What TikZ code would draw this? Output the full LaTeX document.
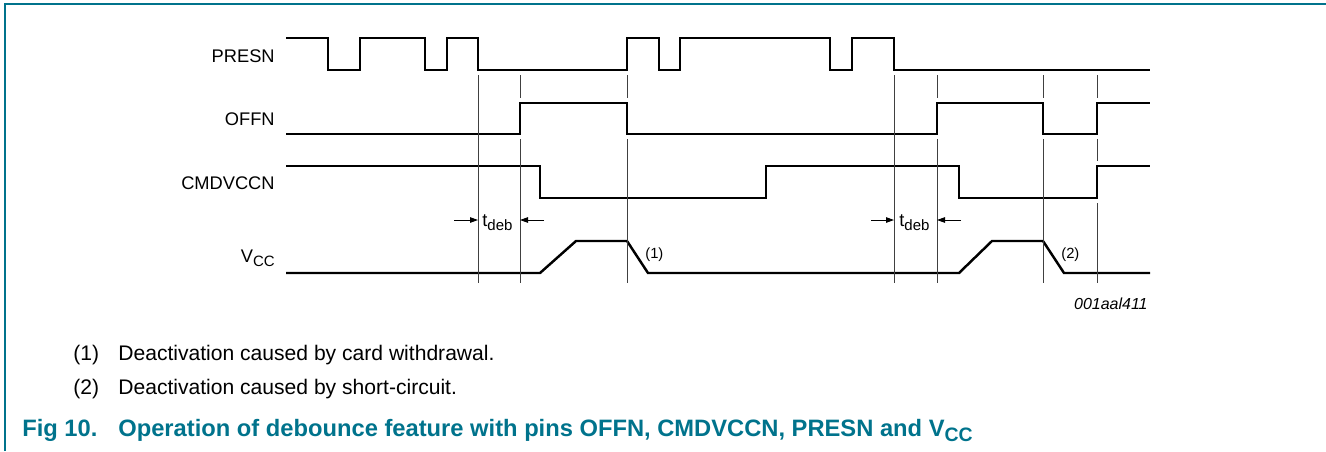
\documentclass[tikz,border=0pt]{standalone}
\usepackage{fontspec}
\setmainfont{Liberation Sans}
\usepackage{xcolor}
\usepackage{graphicx}
\usetikzlibrary{arrows.meta}
\definecolor{nxpteal}{RGB}{0,115,140}
\newcommand{\lowsub}[1]{\raisebox{-0.45ex}{\scalebox{0.82}{#1}}}

\begin{document}
\begin{tikzpicture}[
    x=0.02cm, y=-0.02cm,
    wave/.style={line width=1.4pt, line join=miter},
    guide/.style={line width=0.5pt, black!75},
    dimarrow/.style={-{Triangle[length=1.6mm,width=1.1mm]}, line width=0.5pt},
    siglabel/.style={anchor=east, inner sep=0pt, font=\fontsize{10.4}{12}\selectfont},
    tag/.style={anchor=west, inner sep=0pt, font=\fontsize{8.4}{10}\selectfont},
    note/.style={anchor=base west, inner sep=0pt, font=\fontsize{12}{14}\selectfont},
    caption/.style={anchor=base west, inner sep=0pt, text=nxpteal, font=\fontsize{13.5}{16}\selectfont\bfseries}
]
\useasboundingbox (0,0) rectangle (1326,451);

% --- frame ---
\draw[nxpteal, line width=0.7pt] (5,451) -- (5,4) -- (1326,4);

% --- signal names ---
\node[siglabel] (presn) at (275,56) {PRESN};
\node[siglabel] (offn) at (275,119) {OFFN};
\node[siglabel] (cmdvccn) at (275,183) {CMDVCCN};
\node[siglabel, anchor=base east] (vcc) at (275,262) {V\lowsub{CC}};

% --- waveforms ---
\draw[wave] (286,38) -- (328,38) -- (328,70) -- (360,70) -- (360,38) -- (425,38) -- (425,70)
  -- (447,70) -- (447,38) -- (478,38) -- (478,70) -- (627,70) -- (627,38) -- (659,38)
  -- (659,70) -- (680,70) -- (680,38) -- (830,38) -- (830,70) -- (852,70) -- (852,38)
  -- (894,38) -- (894,70) -- (1150,70);
\draw[wave] (286,134) -- (520,134) -- (520,103) -- (627,103) -- (627,134) -- (937,134)
  -- (937,103) -- (1043,103) -- (1043,134) -- (1097,134) -- (1097,103) -- (1150,103);
\draw[wave] (286,166) -- (540,166) -- (540,198) -- (766,198) -- (766,166) -- (959,166)
  -- (959,198) -- (1097,198) -- (1097,166) -- (1150,166);
\draw[wave] (286,273) -- (540,273) -- (576,241) -- (627,241) -- (648,273) -- (959,273)
  -- (992,241) -- (1043,241) -- (1064,273) -- (1150,273);

% --- timing guides ---
\foreach \x in {478,894}
  \draw[guide] (\x,75) -- (\x,283);
\foreach \x in {520,627,937,1043}
  \draw[guide] (\x,75) -- (\x,98) (\x,139) -- (\x,283);
\draw[guide] (1097,75) -- (1097,98) (1097,139) -- (1097,161) (1097,203) -- (1097,283);

% --- debounce time ---
\node[anchor=base west, inner sep=0pt, font=\fontsize{10.4}{12}\selectfont] (tdeb1) at (482,226) {t\lowsub{deb}};
\node[anchor=base west, inner sep=0pt, font=\fontsize{10.4}{12}\selectfont] (tdeb2) at (899,226) {t\lowsub{deb}};
\draw[dimarrow] (454,220) -- (478,220);
\draw[dimarrow] (544,220) -- (520,220);
\draw[dimarrow] (871,220) -- (894,220);
\draw[dimarrow] (961,220) -- (937,220);

\node[tag] (tag1) at (645,255) {(1)};
\node[tag] (tag2) at (1061,255) {(2)};
\node[anchor=east, inner sep=0pt, font=\fontsize{9.1}{11}\selectfont\itshape] (code) at (1148,304) {001aal411};

% --- notes and caption ---
\node[note] (n1) at (73,360.5) {(1)};
\node[note] (n1t) at (118,360.5) {Deactivation caused by card withdrawal.};
\node[note] (n2) at (73,394.5) {(2)};
\node[note] (n2t) at (118,394.5) {Deactivation caused by short-circuit.};
\node[caption] (fig) at (22,436) {Fig 10.};
\node[caption] (figt) at (118,436) {Operation of debounce feature with pins OFFN, CMDVCCN, PRESN and V\lowsub{CC}};

\end{tikzpicture}
\end{document}
